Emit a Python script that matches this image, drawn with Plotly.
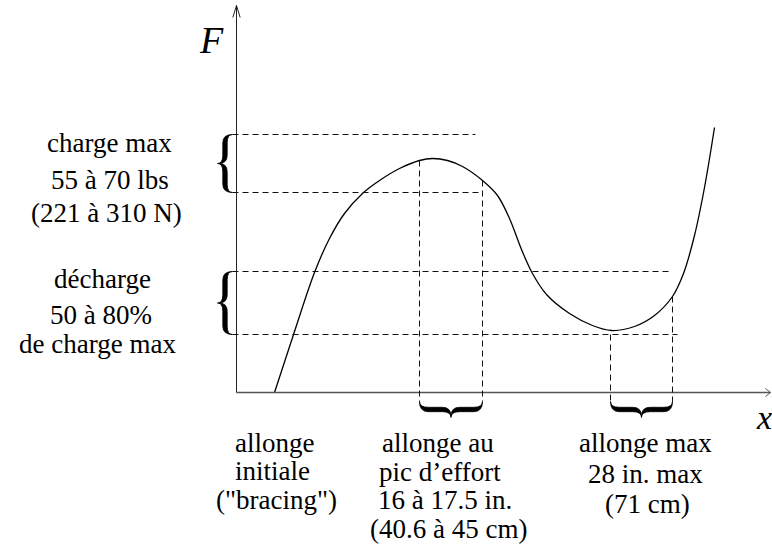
import plotly.graph_objects as go

# Force-draw curve of a compound bow: draw length (x) against force (F)
draw = [38, 58, 78, 93, 108, 126, 143, 163, 183, 196, 211, 226, 246, 261,
        273, 285, 296, 310, 333, 356, 375, 398, 418, 436, 447, 458, 468, 478]
force = [0, 61, 120, 154, 179, 199, 212, 224, 232, 234, 232, 226, 212, 197,
         174, 143, 119, 98, 79, 67, 62, 66, 77, 96, 119, 157, 205, 265]

# Bands marked with braces
peak_force_band = (200, 258)   # charge max
letoff_band = (58, 121)        # décharge
peak_draw_band = (183, 246)    # allonge au pic d'effort
max_draw_band = (374, 436)     # allonge max

left_labels = ["charge max", "55 à 70 lbs", "(221 à 310 N)",
               "décharge", "50 à 80%", "de charge max"]
bottom_labels = [
    ["allonge", "initiale", '("bracing")'],
    ["allonge au", "pic d’effort", "16 à 17.5 in.", "(40.6 à 45 cm)"],
    ["allonge max", "28 in. max", "(71 cm)"],
]

# ---- layout helpers -------------------------------------------------------
FONT = "Liberation Serif"
LABEL_SIZE = 27
DASH = dict(color="#111111", width=1, dash="6px,4px")
# half-unit offsets keep 1px guides on whole pixel rows/columns
X_MIN, X_MAX = -236.5, 535.5
Y_MIN, Y_MAX = -151.5, 392.5

fig = go.Figure()
fig.add_trace(go.Scatter(
    x=draw, y=force, mode="lines",
    line=dict(color="black", width=1.3, shape="spline", smoothing=1.0),
    hoverinfo="skip", showlegend=False,
))

shapes = []


def line(x0, y0, x1, y1, **style):
    shapes.append(dict(type="line", xref="x", yref="y",
                       x0=x0, y0=y0, x1=x1, y1=y1, line=style))


def brace(s0, s1, depth, to_xy, thick=4.4):
    """Filled curly brace along s in [s0, s1]; d is distance toward the tip."""
    c = depth / 2
    r = min(depth * 0.55, (s1 - s0) / 4)
    sm = (s0 + s1) / 2
    a, b = c + thick / 2, c - thick / 2

    def p(s, d):
        x, y = to_xy(s, d)
        return f"{x:.2f},{y:.2f}"

    path = (f"M{p(s0, 0)} Q{p(s0, a)} {p(s0 + r, a)} L{p(sm - r, a)} "
            f"Q{p(sm, a)} {p(sm, depth)} Q{p(sm, a)} {p(sm + r, a)} "
            f"L{p(s1 - r, a)} Q{p(s1, a)} {p(s1, 0)} "
            f"Q{p(s1, b)} {p(s1 - r, b)} L{p(sm + r, b)} "
            f"Q{p(sm, b)} {p(sm, depth - 1.5)} Q{p(sm, b)} {p(sm - r, b)} "
            f"L{p(s0 + r, b)} Q{p(s0, b)} {p(s0, 0)} Z")
    shapes.append(dict(type="path", xref="x", yref="y", path=path,
                       fillcolor="black", line=dict(color="black", width=0.8)))


# axes with open arrow heads
line(0, 0, 0, 387, color="#222222", width=1)
line(-3.7, 375, 0, 387, color="#222222", width=1)
line(3.7, 375, 0, 387, color="#222222", width=1)
line(0, 0, 534, 0, color="#555555", width=1.5)
line(529, 4, 534, 0, color="#555555", width=1)
line(529, -4, 534, 0, color="#555555", width=1)

curve_at = dict(zip(draw, force))
brace_edge = -4     # right edge of the left braces
brace_top = -9      # top edge of the bottom braces

# horizontal guides
line(brace_edge, peak_force_band[1], 239, peak_force_band[1], **DASH)
line(brace_edge, peak_force_band[0], peak_draw_band[1], peak_force_band[0], **DASH)
line(brace_edge, letoff_band[1], max_draw_band[1], letoff_band[1], **DASH)
line(brace_edge, letoff_band[0], max_draw_band[1] + 5, letoff_band[0], **DASH)

# vertical guides
line(peak_draw_band[0], curve_at[peak_draw_band[0]], peak_draw_band[0], brace_top, **DASH)
line(peak_draw_band[1], curve_at[peak_draw_band[1]], peak_draw_band[1], brace_top, **DASH)
line(max_draw_band[0], letoff_band[0], max_draw_band[0], brace_top, **DASH)
line(max_draw_band[1], curve_at[max_draw_band[1]], max_draw_band[1], brace_top, **DASH)

# braces
for lo, hi in (peak_force_band, letoff_band):
    brace(lo, hi, 15, lambda s, d: (brace_edge - d, s))
for lo, hi in (peak_draw_band, max_draw_band):
    brace(lo, hi, 16, lambda s, d: (s, brace_top - d))

# ---- text -----------------------------------------------------------------
annotations = []


def text(x, y, t, size=LABEL_SIZE):
    annotations.append(dict(x=x, y=y, xref="x", yref="y", text=t,
                            showarrow=False, xanchor="center", yanchor="middle",
                            font=dict(family=FONT, size=size, color="black")))


left_pos = [(-127.5, 249.5), (-127, 213), (-130.5, 179.5),
            (-134, 114), (-136, 77.5), (-139, 48.5)]
for t, (x, y) in zip(left_labels, left_pos):
    text(x, y, t)

bottom_x = [38, 203, 410]
bottom_dx = [[0, -2, 2], [-2, 0, 5, 9], [-1, -1, 1]]
bottom_y = [[-50, -78.5, -107.5], [-50, -79, -107.5, -136.5], [-50, -81, -111]]
for col, cx, dxs, ys in zip(bottom_labels, bottom_x, bottom_dx, bottom_y):
    for t, dx, y in zip(col, dxs, ys):
        text(cx + dx, y, t)

text(-25, 353, "<i>F</i>", size=38)
text(527, -25, "<i>x</i>", size=34)

fig.update_layout(
    width=772, height=544, autosize=False,
    margin=dict(l=0, r=0, t=0, b=0, pad=0),
    paper_bgcolor="white", plot_bgcolor="white",
    xaxis=dict(range=[X_MIN, X_MAX], visible=False, fixedrange=True),
    yaxis=dict(range=[Y_MIN, Y_MAX], visible=False, fixedrange=True),
    shapes=shapes, annotations=annotations, showlegend=False,
)

fig.write_html("out.html", config=dict(displayModeBar=False))
